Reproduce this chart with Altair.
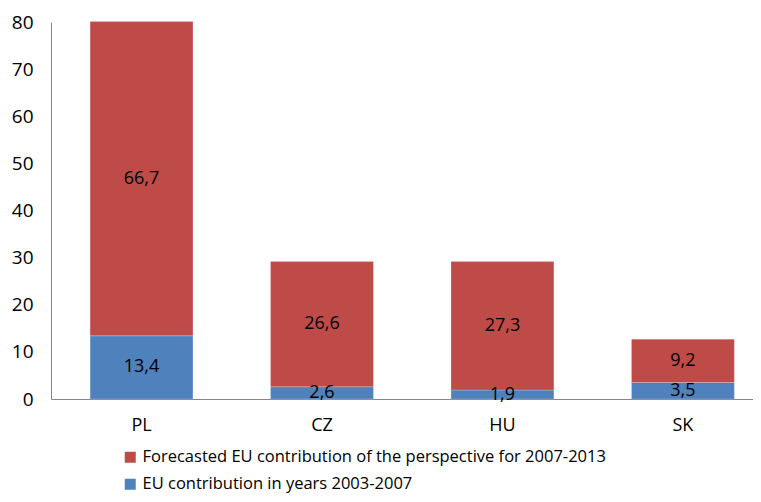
import altair as alt
import pandas as pd

countries = ["PL", "CZ", "HU", "SK"]
past = [13.4, 2.6, 1.9, 3.5]
forecast = [66.7, 26.6, 27.3, 9.2]
s_past = "EU contribution in years 2003-2007"
s_fore = "Forecasted EU contribution of the perspective for 2007-2013"

rows = []
for c, p, f in zip(countries, past, forecast):
    rows.append({"country": c, "series": s_past, "value": p, "ord": 0})
    rows.append({"country": c, "series": s_fore, "value": f, "ord": 1})
df = pd.DataFrame(rows)

FONT = "Open Sans"

base = alt.Chart(df).transform_stack(
    stack="value", groupby=["country"], as_=["y0", "y1"],
    sort=[alt.SortField("ord", order="ascending")]
).transform_calculate(
    mid="(datum.y0 + datum.y1) / 2",
    label="replace(format(datum.value, '.1f'), '.', ',')"
)

xenc = alt.X("country:N", sort=countries, title=None,
             scale=alt.Scale(paddingInner=0.43, paddingOuter=0.16, align=0.677),
             axis=alt.Axis(labelAngle=0, ticks=False, domainColor="#868686",
                           labelFont=FONT, labelFontSize=18, labelColor="#000000",
                           labelPadding=17))

bars = base.mark_bar(stroke="#ffffff", strokeWidth=0.5, strokeOpacity=0.4).encode(
    x=xenc,
    y=alt.Y("y1:Q", title=None,
            scale=alt.Scale(domain=[0, 80], nice=False),
            axis=alt.Axis(values=list(range(0, 81, 10)), grid=False, ticks=False,
                          domainColor="#868686", labelFont=FONT, labelFontSize=19,
                          labelColor="#000000", labelPadding=18)),
    y2="y0:Q",
    color=alt.Color("series:N",
                    scale=alt.Scale(domain=[s_fore, s_past], range=["#BE4B48", "#4F81BD"]),
                    legend=alt.Legend(title=None, orient="none", legendX=71, legendY=427,
                                      direction="vertical", symbolType="square",
                                      symbolSize=121, symbolStrokeWidth=0,
                                      labelFont=FONT, labelFontSize=16.5, labelColor="#000000",
                                      rowPadding=10, labelOffset=4, labelLimit=700)),
)

texts = base.mark_text(font=FONT, fontSize=18, color="#000000", baseline="middle").encode(
    x=alt.X("country:N", sort=countries),
    y=alt.Y("mid:Q"),
    text="label:N",
)

chart = alt.layer(bars, texts).properties(
    width=702, height=377,
    autosize=alt.AutoSizeParams(type="none"),
    padding={"left": 43, "top": 14, "right": 0, "bottom": 95},
).configure_view(stroke=None)

chart.save("out.html", embed_options={"renderer": "svg", "actions": False})
